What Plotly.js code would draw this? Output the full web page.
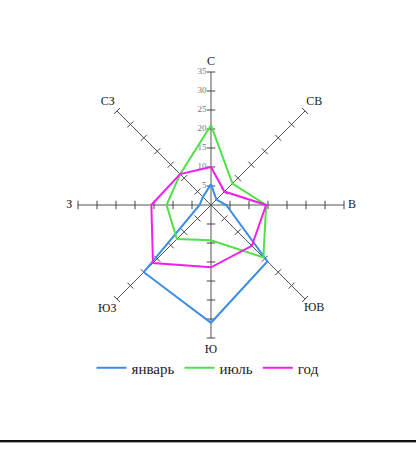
<!DOCTYPE html>
<html>
<head>
<meta charset="utf-8">
<script src="https://cdn.plot.ly/plotly-3.0.1.min.js"></script>
<style>
html,body{margin:0;padding:0;background:#fff;}
#chart{width:416px;height:453px;position:absolute;left:0;top:0;}
#rule{position:absolute;left:0;top:440px;width:416px;height:2px;background:#111;border-bottom:1px solid #aaa;}
</style>
</head>
<body>
<div id="chart"></div>
<div id="rule"></div>
<script>
// Directions (categories)
const directions = ["С", "СВ", "В", "ЮВ", "Ю", "ЮЗ", "З", "СЗ"];
// Series values (frequency, %)
const january = [5.5, 2, 4, 21, 31, 25, 3, 3];
const july    = [21, 8, 14.5, 19.5, 9.3, 12.7, 11.7, 11.5];
const year    = [10, 5, 14.5, 15.2, 16.4, 21.6, 15.7, 11.5];
const seriesNames = ["январь", "июль", "год"];
// Radial tick values
const radialTicks = [5, 10, 15, 20, 25, 30, 35];

const colors = ["#3a8ee6", "#4fe04a", "#f020e8"];
const closeLoop = a => a.concat([a[0]]);
const serif = "Liberation Serif, Times New Roman, serif";
const axisMax = radialTicks[radialTicks.length - 1];

const traces = [];
// Spokes (axis lines) from centre to the last tick
const sr = [], st = [];
directions.forEach(d => { sr.push(0, axisMax, null); st.push(d, d, d); });
traces.push({type:"scatterpolar", mode:"lines", r:sr, theta:st, connectgaps:false,
  line:{color:"#555", width:1}, showlegend:false, hoverinfo:"skip"});

// Tick marks along every spoke
const tickSymbols = {"С":"line-ew","Ю":"line-ew","В":"line-ns","З":"line-ns",
                     "СВ":"line-nw","ЮЗ":"line-nw","СЗ":"line-ne","ЮВ":"line-ne"};
const tr = [], tt = [], ts = [];
directions.forEach(d => radialTicks.forEach(v => { tr.push(v); tt.push(d); ts.push(tickSymbols[d]); }));
traces.push({type:"scatterpolar", mode:"markers", r:tr, theta:tt, showlegend:false, hoverinfo:"skip",
  marker:{symbol:ts, size:6, color:"#444", line:{color:"#444", width:1}}});

// Radial tick labels along the north spoke
traces.push({type:"scatterpolar", mode:"text", r:radialTicks, theta:radialTicks.map(() => directions[0]),
  text:radialTicks.map(v => v + "\u00a0\u00a0"), textposition:"middle left", cliponaxis:false,
  textfont:{family:serif, size:9, color:"#777"}, showlegend:false, hoverinfo:"skip"});

// Direction labels just beyond each spoke end (label radius per direction, layout only)
const labelRadius = {"С":37.6,"СВ":38.4,"В":37.1,"ЮВ":38.4,"Ю":38.2,"ЮЗ":38.6,"З":37.3,"СЗ":38.4};
traces.push({type:"scatterpolar", mode:"text", r:directions.map(d => labelRadius[d]), theta:directions, text:directions,
  textposition:"middle center", cliponaxis:false,
  textfont:{family:serif, size:12, color:"#222"}, showlegend:false, hoverinfo:"skip"});

[january, july, year].forEach((vals, i) => {
  traces.push({type:"scatterpolar", mode:"lines", name:seriesNames[i],
    r:closeLoop(vals), theta:closeLoop(directions),
    line:{color:colors[i], width:2}});
});

const layout = {
  width:416, height:453,
  margin:{l:0, r:0, t:0, b:0},
  paper_bgcolor:"#fff",
  font:{family:serif, color:"#222"},
  polar:{
    domain:{x:[59/416, 363/416], y:[96/453, 400/453]},
    bgcolor:"rgba(0,0,0,0)",
    angularaxis:{type:"category", categoryarray:directions, direction:"clockwise", rotation:90,
      showline:false, showgrid:false, ticks:"", showticklabels:false},
    radialaxis:{range:[0,40], angle:90, showline:false, showgrid:false, ticks:"", showticklabels:false}
  },
  legend:{orientation:"h", x:0.5, xanchor:"center", y:(453-368)/453, yanchor:"middle",
    font:{family:serif, size:15, color:"#222"}, bgcolor:"rgba(0,0,0,0)"}
};

Plotly.newPlot("chart", traces, layout, {staticPlot:true});
</script>
</body>
</html>
